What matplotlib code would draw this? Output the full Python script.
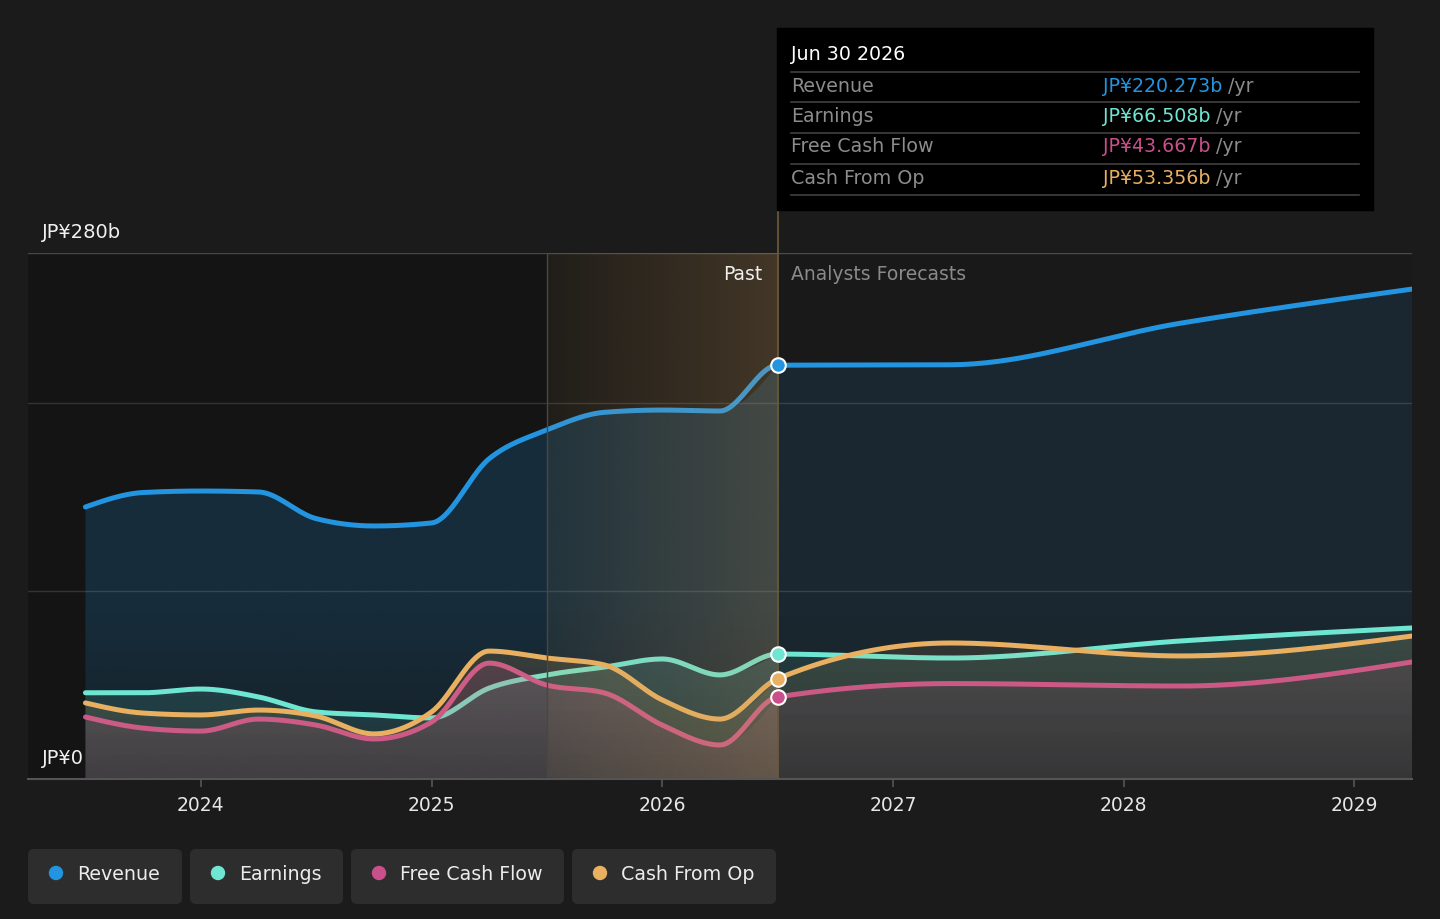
import numpy as np
import matplotlib
matplotlib.use('Agg')
import matplotlib.pyplot as plt
from matplotlib.colors import to_rgb
from matplotlib.patches import FancyBboxPatch, Rectangle, Circle

# ------------------------------------------------------------------
# data (JP¥ billions)
# ------------------------------------------------------------------
past_x = [2023.5, 2023.75, 2024.0, 2024.25, 2024.5, 2024.75, 2025.0,
          2025.25, 2025.5, 2025.75, 2026.0, 2026.25, 2026.5]
rev_past = [144.8, 152.5, 153.3, 152.8, 138.6, 134.7, 136.3,
            170.5, 185.8, 195.2, 196.4, 195.9, 220.273]
earn_past = [45.9, 45.9, 47.9, 43.7, 35.7, 34.1, 32.5,
             48.4, 55.4, 59.6, 63.9, 55.4, 66.508]
fcf_past = [33.0, 27.1, 25.5, 31.9, 28.7, 21.3, 30.3,
            61.7, 50.0, 45.8, 28.7, 18.1, 43.667]
cfo_past = [40.5, 35.1, 34.1, 36.7, 33.5, 24.0, 35.7,
            68.1, 64.4, 60.7, 42.1, 31.9, 53.356]

fc_x = [2026.5, 2027.25, 2028.25, 2029.25]
rev_fc = [220.273, 220.5, 242.7, 260.8]
earn_fc = [66.508, 64.4, 73.5, 80.4]
fcf_fc = [43.667, 50.8, 49.5, 62.3]
cfo_fc = [53.356, 72.4, 65.5, 76.1]

names = ['Revenue', 'Earnings', 'Free Cash Flow', 'Cash From Op']
colors = ['#2394df', '#6ee6d2', '#c9508a', '#e8b060']
tip_values = ['JP¥220.273b', 'JP¥66.508b', 'JP¥43.667b', 'JP¥53.356b']
years = [2024, 2025, 2026, 2027, 2028, 2029]


def monotone(xs, ys, n=40):
    # monotone cubic (like d3 curveMonotoneX), only for drawing the smooth line
    xs = np.asarray(xs, float)
    ys = np.asarray(ys, float)
    h = np.diff(xs)
    s = np.diff(ys) / h
    m = np.zeros_like(ys)
    for i in range(1, len(xs) - 1):
        if s[i - 1] * s[i] > 0:
            p = (s[i - 1] * h[i] + s[i] * h[i - 1]) / (h[i - 1] + h[i])
            m[i] = (np.sign(s[i - 1]) + np.sign(s[i])) * min(abs(s[i - 1]), abs(s[i]), 0.5 * abs(p))
    m[0] = (3 * s[0] - m[1]) / 2
    m[-1] = (3 * s[-1] - m[-2]) / 2
    outx, outy = [], []
    for i in range(len(xs) - 1):
        t = np.linspace(0, 1, n, endpoint=(i == len(xs) - 2))
        h00 = 2 * t**3 - 3 * t**2 + 1
        h10 = t**3 - 2 * t**2 + t
        h01 = -2 * t**3 + 3 * t**2
        h11 = t**3 - t**2
        outx.append(xs[i] + t * h[i])
        outy.append(h00 * ys[i] + h10 * h[i] * m[i] + h01 * ys[i + 1] + h11 * h[i] * m[i + 1])
    return np.concatenate(outx), np.concatenate(outy)


def gradient_fill(ax, x, y, color, alpha, z):
    # area under a curve, fading a little toward the baseline
    poly = ax.fill_between(x, y, 0, color='none', lw=0)
    yy = np.linspace(280, 0, 140)
    a = alpha * (0.5 + 0.5 * np.clip(yy / 90, 0, 1))
    arr = np.zeros((140, 2, 4))
    arr[:, :, :3] = to_rgb(color)
    arr[:, :, 3] = a[:, None]
    im = ax.imshow(arr, extent=(x[0], x[-1], 0, 280), aspect='auto', zorder=z,
                   interpolation='bilinear')
    im.set_clip_path(poly.get_paths()[0], transform=ax.transData)


past = [rev_past, earn_past, fcf_past, cfo_past]
fc = [rev_fc, earn_fc, fcf_fc, cfo_fc]

# ------------------------------------------------------------------
# figure
# ------------------------------------------------------------------
fig = plt.figure(figsize=(14.4, 9.19), dpi=100, facecolor='#1b1b1b')
ax = fig.add_axes([28 / 1440, (919 - 779) / 919, (1412 - 28) / 1440, (779 - 253) / 919])
ax.set_facecolor('#191919')

# darker past background
ax.axvspan(2023.251, 2026.5, color='#141414', zorder=0, lw=0)

# grid lines
for v in [100, 200]:
    ax.axhline(v, color='white', alpha=0.09, lw=1, zorder=0.5)
ax.axhline(280, color='white', alpha=0.22, lw=1, zorder=0.5)

# each series: fill then line, later series on top
alpha_past = [0.19, 0.18, 0.24, 0.18]
alpha_fc = [0.12, 0.13, 0.16, 0.13]
for k in range(4):
    z = 1 + k
    px, py = monotone(past_x, past[k])
    fx, fy = monotone(fc_x, fc[k])
    gradient_fill(ax, px, py, colors[k], alpha_past[k], z)
    gradient_fill(ax, fx, fy, colors[k], alpha_fc[k], z)
    lx, ly = monotone(past_x + fc_x[1:], past[k] + fc[k][1:])
    ax.plot(lx, ly, color=colors[k], lw=3.6, zorder=z + 0.5, solid_capstyle='round')

# grid lines show faintly through the fills
for v in [100, 200]:
    ax.axhline(v, color='white', alpha=0.05, lw=1, zorder=5.2)

# highlighted last past year
gold = np.zeros((2, 200, 4))
gold[:, :, :3] = to_rgb('#d0a060')
gold[:, :, 3] = np.linspace(0.07, 0.25, 200)[None, :]
ax.imshow(gold, extent=(2025.5, 2026.5, 0, 280), aspect='auto', zorder=6,
          interpolation='bilinear')
ax.plot([2025.5, 2025.5], [0, 280], color='#4a4640', lw=1, zorder=6)
ax.plot([2026.5, 2026.5], [0, 303], color='#6e5c3c', lw=1.2, zorder=6, clip_on=False)

# markers at the split
for k in range(4):
    ax.scatter([2026.5], [past[k][-1]], s=110, color=colors[k], edgecolors='white',
               linewidths=1.5, zorder=7, clip_on=False)

ax.set_xlim(2023.251, 2029.25)
ax.set_ylim(0, 280)
for sp in ['top', 'right', 'left']:
    ax.spines[sp].set_visible(False)
ax.spines['bottom'].set_color('#555555')
ax.spines['bottom'].set_linewidth(1.5)
ax.spines['bottom'].set_zorder(8)
ax.set_yticks([])
ax.set_xticks(years)
ax.set_xticklabels([str(y) for y in years])
ax.tick_params(axis='x', colors='#555555', labelcolor='#e6e6e6', labelsize=13.5,
               length=6, width=1.2, pad=6)

# ------------------------------------------------------------------
# overlay in pixel coordinates: labels, tooltip, legend
# ------------------------------------------------------------------
ov = fig.add_axes([0, 0, 1, 1], zorder=5)
ov.set_xlim(0, 1440)
ov.set_ylim(919, 0)
ov.axis('off')
ov.patch.set_alpha(0)

ov.text(42, 232, 'JP¥280b', color='#f0f0f0', fontsize=14, va='center', ha='left')
ov.text(42, 758, 'JP¥0', color='#f0f0f0', fontsize=14, va='center', ha='left')
ov.text(762, 274, 'Past', color='#f0f0f0', fontsize=13.5, va='center', ha='right')
ov.text(791, 274, 'Analysts Forecasts', color='#8a8a8a', fontsize=13.5, va='center', ha='left')

# tooltip
ov.add_patch(Rectangle((777, 28), 596, 182, color='#000000', zorder=1))
ov.text(791, 55, 'Jun 30 2026', color='white', fontsize=13.7, va='center', ha='left', zorder=2)
for yy in [72, 102, 133, 164, 195]:
    ov.plot([791, 1359], [yy, yy], color='#404040', lw=1.2, zorder=2)
row_y = [86, 116, 147, 178]
for k in range(4):
    ov.text(791, row_y[k], names[k], color='#8c8c8c', fontsize=13.7, va='center', zorder=2)
    vt = ov.text(1103, row_y[k], tip_values[k], color=colors[k], fontsize=13.7,
                 va='center', zorder=2)
    ov.annotate(' /yr', xy=(1, 0), xycoords=vt, va='bottom', ha='left',
                color='#8c8c8c', fontsize=13.7, zorder=2)

# legend
boxes = [(28, 182), (190, 343), (351, 564), (572, 776)]
for k, (x0, x1) in enumerate(boxes):
    ov.add_patch(FancyBboxPatch((x0, 849), x1 - x0, 55,
                                boxstyle='round,pad=0,rounding_size=6',
                                facecolor='#2d2d2d', edgecolor='none'))
    ov.add_patch(Circle((x0 + 28, 873), 6.5, color=colors[k]))
    ov.text(x0 + 49, 874, names[k], color='#ececec', fontsize=13.7, va='center', ha='left')

fig.savefig('out.png', dpi=100, facecolor=fig.get_facecolor())
